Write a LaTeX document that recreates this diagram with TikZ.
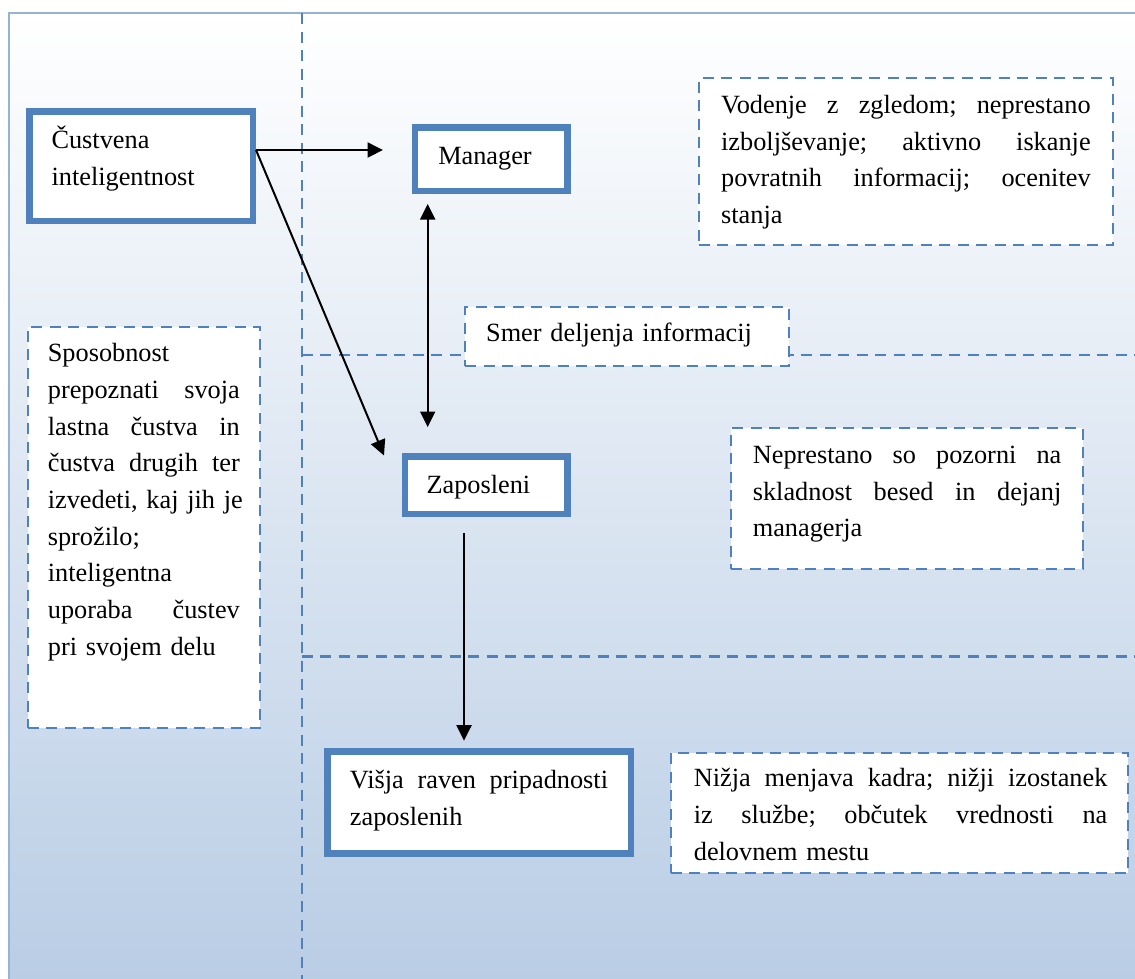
\documentclass[tikz,border=0pt]{standalone}
\usepackage{fontspec}
\setmainfont{Liberation Serif}
\usetikzlibrary{arrows.meta,calc}
\definecolor{boxblue}{RGB}{79,129,189}
\definecolor{framecol}{RGB}{149,179,215}
\definecolor{bgblue}{RGB}{185,205,229}
\newcommand\fs{\fontsize{26.3pt}{36.7pt}\selectfont}
\newcommand\jl[2]{\leavevmode\hbox to #1{#2}}
\newcommand\gf{ \hfill }
\tikzset{
  thickbox/.style={draw=boxblue, line width=6.5pt, fill=white, inner ysep=0pt,
    anchor=base west, align=left, font=\fs},
  dashbox/.style={draw=boxblue, line width=2.3pt, dash pattern=on 11pt off 7.5pt,
    fill=white, inner ysep=0pt, anchor=base west, align=left, font=\fs},
  divider/.style={draw=boxblue, line width=2.3pt, dash pattern=on 11pt off 7.5pt},
  arr/.style={line width=2pt, -{Triangle[length=15.5pt,width=15pt]}},
  darr/.style={line width=2pt, {Triangle[length=15.5pt,width=15pt]}-{Triangle[length=15.5pt,width=15pt]}}
}
\begin{document}
\begin{tikzpicture}[x=1pt,y=-1pt]
\useasboundingbox (0,0) rectangle (1135,978);
% background and frame
\fill[top color=white, bottom color=bgblue] (9.3,13.3) rectangle (1136,979);
\draw[framecol, line width=2pt] (9.3,980) -- (9.3,13.3) -- (1137,13.3);
% dividers
\draw[divider] (301.7,13.3) -- (301.7,980);
\draw[divider] (301.7,355) -- (1137,355);
\draw[divider] (301.7,656.5) -- (1137,656.5);

% thick boxes
\node[thickbox, inner xsep=22.3pt, text width=178.9pt, text height=36.8pt, text depth=72.7pt]
  (cus) at (26,148.3) {Čustvena\\inteligentnost};
\node[thickbox, inner xsep=23.5pt, text width=105.5pt, text height=36.8pt, text depth=26.5pt]
  (man) at (411.5,164.3) {Manager};
\node[thickbox, inner xsep=21.8pt, text width=118.9pt, text height=36.8pt, text depth=20.7pt]
  (zap) at (401.5,493.3) {Zaposleni};
\node[thickbox, inner xsep=22.7pt, text width=258.1pt, text height=36.8pt, text depth=65.2pt]
  (vis) at (324,788.3) {\jl{258.1pt}{Višja\gf raven\gf pripadnosti}\\zaposlenih};

% dashed boxes
\node[dashbox, inner xsep=22.5pt, text width=369.5pt, text height=35pt, text depth=131.7pt]
  (vod) at (697.5,113.3)
  {\jl{369.5pt}{Vodenje\gf z\gf zgledom;\gf neprestano}\\\jl{369.5pt}{izboljševanje;\gf aktivno\gf iskanje}\\\jl{369.5pt}{povratnih\gf informacij;\gf ocenitev}\\stanja};
\node[dashbox, inner xsep=21pt, text width=281.5pt, text height=34.7pt, text depth=24.3pt]
  (smer) at (464,341.7) {Smer deljenja informacij};
\node[dashbox, inner xsep=20pt, text width=192.3pt, text height=34.7pt, text depth=366.3pt]
  (spo) at (26.7,361.7)
  {Sposobnost\\\jl{192pt}{prepoznati\gf svoja}\\\jl{192pt}{lastna\gf čustva\gf in}\\\jl{192pt}{čustva\gf drugih\gf ter}\\\jl{192pt}{izvedeti,\gf kaj\gf jih\gf je}\\sprožilo;\\inteligentna\\\jl{192pt}{uporaba\gf čustev}\\pri svojem delu};
\node[dashbox, inner xsep=21.7pt, text width=308.5pt, text height=35pt, text depth=105.7pt]
  (nep) at (730,463.3)
  {\jl{308.5pt}{Neprestano\gf so\gf pozorni\gf na}\\\jl{308.5pt}{skladnost\gf besed\gf in\gf dejanj}\\managerja};
\node[dashbox, inner xsep=23.2pt, text width=411.1pt, text height=34pt, text depth=86.6pt]
  (niz) at (669.5,786.7)
  {\jl{413.5pt}{Nižja\gf menjava\gf kadra;\gf nižji\gf izostanek}\\\jl{413.5pt}{iz\gf službe;\gf občutek\gf vrednosti\gf na}\\delovnem mestu};

% arrow ends
\coordinate (t1) at (383,150);
\coordinate (t2) at (384,455.5);
\coordinate (b1) at (427.7,204);
\coordinate (b2) at (427.7,427);
\coordinate (c1) at (464,533);
\coordinate (c2) at (464,740.7);

% connectors
\draw[arr] (cus.east |- t1) -- (t1);
\draw[arr] (cus.east |- t1) -- (t2);
\draw[darr] (b1) -- (b2);
\draw[arr] (c1) -- (c2);
\end{tikzpicture}
\end{document}
